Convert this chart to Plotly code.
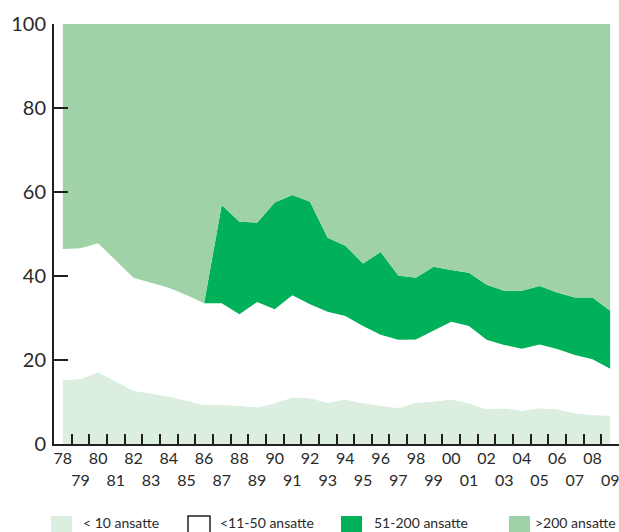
import plotly.graph_objects as go

# ---- data (shares in %, stacked) ----
years = list(range(1978, 2010))
year_labels = ["78", "79", "80", "81", "82", "83", "84", "85", "86", "87", "88", "89",
               "90", "91", "92", "93", "94", "95", "96", "97", "98", "99", "00", "01",
               "02", "03", "04", "05", "06", "07", "08", "09"]

under10 = [15.2, 15.5, 17.1, 14.9, 12.7, 12.0, 11.3, 10.3, 9.3, 9.3, 9.1, 8.7,
           9.7, 11.1, 10.9, 9.8, 10.6, 9.7, 9.1, 8.6, 9.8, 10.1, 10.6, 9.7,
           8.3, 8.5, 7.9, 8.5, 8.3, 7.3, 6.9, 6.7]
s11_50 = [31.2, 31.1, 30.7, 28.7, 26.9, 26.4, 25.9, 25.2, 24.2, 24.2, 21.8, 25.1,
          22.4, 24.3, 22.4, 21.7, 19.9, 18.4, 16.9, 16.2, 15.1, 16.9, 18.5, 18.4,
          16.5, 15.1, 14.8, 15.2, 14.3, 13.9, 13.3, 11.2]
s51_200 = [0, 0, 0, 0, 0, 0, 0, 0, 0, 23.4, 22.0, 18.9,
           25.4, 23.9, 24.4, 17.6, 16.7, 14.9, 19.7, 15.3, 14.7, 15.2, 12.3, 12.7,
           13.1, 12.9, 13.8, 13.9, 13.5, 13.7, 14.7, 13.8]
over200 = [53.6, 53.4, 52.2, 56.4, 60.4, 61.6, 62.8, 64.5, 66.5, 43.1, 47.1, 47.3,
           42.5, 40.7, 42.3, 50.9, 52.8, 57.0, 54.3, 59.9, 60.4, 57.8, 58.6, 59.2,
           62.1, 63.5, 63.5, 62.4, 63.9, 65.1, 65.1, 68.3]

series_names = ["< 10 ansatte", "<11-50 ansatte", "51-200 ansatte", ">200 ansatte"]
series_values = [under10, s11_50, s51_200, over200]
series_colors = ["#dceee0", "#ffffff", "#00b159", "#9fd2a7"]

y_ticks = [0, 20, 40, 60, 80, 100]

FONT = "Lato"
TXT = "#2a2a2a"
AX = "#231f20"

fig = go.Figure()
for name, vals, col in zip(series_names, series_values, series_colors):
    fig.add_trace(go.Scatter(
        x=years, y=vals, name=name, mode="lines", stackgroup="one",
        line=dict(width=0, color=col), fillcolor=col, showlegend=False,
    ))

# helper traces for the two label rows
for ax in ("x2", "x3"):
    fig.add_trace(go.Scatter(x=[years[0]], y=[0], xaxis=ax, mode="markers",
                             marker=dict(opacity=0), hoverinfo="skip", showlegend=False))

xr = [years[0] - 0.5, years[-1] + 0.5]
tick_marks = [y + 0.5 for y in years[:-1]]
even_years, even_labels = years[0::2], year_labels[0::2]
odd_years, odd_labels = years[1::2], year_labels[1::2]

label_axis = dict(range=xr, overlaying="x", anchor="y", side="bottom", ticks="",
                  showline=False, showgrid=False, zeroline=False, tickangle=0,
                  automargin=False, ticklabeloverflow="allow",
                  tickfont=dict(size=16, color=TXT, family=FONT))

fig.update_layout(
    width=619, height=532,
    margin=dict(l=54, r=0, t=24, b=88, autoexpand=False),
    plot_bgcolor="white", paper_bgcolor="white",
    font=dict(family=FONT, color=TXT),
    showlegend=False,
    xaxis=dict(range=xr, tickvals=tick_marks, ticks="inside", ticklen=10, tickwidth=2,
               tickcolor=AX, showticklabels=False, showline=True, linewidth=2,
               linecolor=AX, showgrid=False, zeroline=False, automargin=False),
    xaxis2=dict(label_axis, tickvals=even_years, ticktext=even_labels, ticklabelstandoff=3),
    xaxis3=dict(label_axis, tickvals=odd_years, ticktext=odd_labels, ticklabelstandoff=25),
    yaxis=dict(range=[0, 100], tickvals=y_ticks, ticks="inside", ticklen=14, tickwidth=2,
               tickcolor=AX, showline=True, linewidth=2, linecolor=AX, showgrid=False,
               zeroline=False, automargin=False,
               tickfont=dict(size=20, color=TXT, family=FONT),
               ticklabelstandoff=2),
)

# ---- manual legend (paper coordinates; page pixels) ----
def px_x(p):
    return (p - 54) / 565.0

def px_y(p):
    return (444 - p) / 420.0

legend_items = [
    (51, 72, 81, series_colors[0], None),
    (188, 210, 218, series_colors[1], AX),
    (341, 362, 372, series_colors[2], None),
    (509, 530, 533, series_colors[3], None),
]
for (x0, x1, tx, col, border), name in zip(legend_items, series_names):
    fig.add_shape(type="rect", xref="paper", yref="paper",
                  x0=px_x(x0), x1=px_x(x1), y0=px_y(516), y1=px_y(538),
                  fillcolor=col,
                  line=dict(width=1.5 if border else 0, color=border or col))
    fig.add_annotation(xref="paper", yref="paper", x=px_x(tx), y=px_y(522),
                       xanchor="left", yanchor="middle", text=name, showarrow=False,
                       font=dict(size=14, color=TXT, family=FONT))

fig.write_html(
    "out.html",
    config={"displayModeBar": False},
    post_script="document.body.style.margin='0';"
                "document.documentElement.style.overflow='hidden';"
                "document.body.style.overflow='hidden';",
)
